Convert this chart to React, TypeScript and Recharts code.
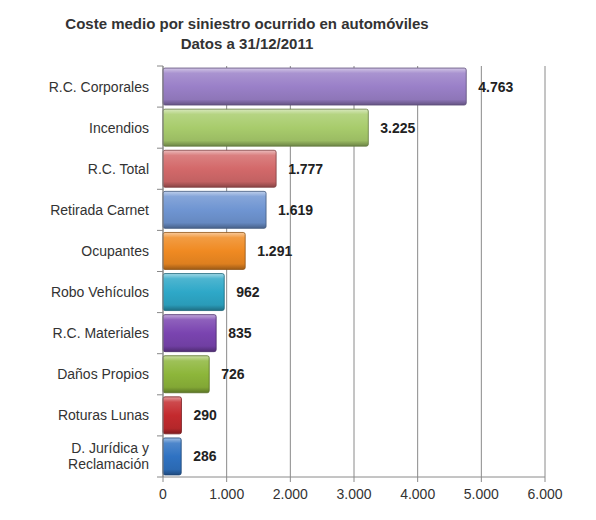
import React from "react";
import { BarChart, Bar, XAxis, YAxis, CartesianGrid, Cell, LabelList } from "recharts";

const categories = [
  "R.C. Corporales",
  "Incendios",
  "R.C. Total",
  "Retirada Carnet",
  "Ocupantes",
  "Robo Vehículos",
  "R.C. Materiales",
  "Daños Propios",
  "Roturas Lunas",
  "D. Jurídica y Reclamación",
];
const values = [4763, 3225, 1777, 1619, 1291, 962, 835, 726, 290, 286];
const xTicks = [0, 1000, 2000, 3000, 4000, 5000, 6000];
const colors = [
  "#9a80c8",
  "#a8cc6c",
  "#d3696a",
  "#6f95d2",
  "#f08a22",
  "#2ea8c8",
  "#7a44b0",
  "#8db63a",
  "#c42a2e",
  "#2f72c2",
];

const data = categories.map((c, i) => ({ name: c, value: values[i] }));

const fmt = (v: number) => String(v).replace(/\B(?=(\d{3})+(?!\d))/g, ".");

const W = 588;
const H = 510;
const MT = 58;
const MB = 11;
const XH = 30;
const PLOT_H = H - MT - MB - XH;
const BAND = PLOT_H / categories.length;
const FONT = "Liberation Sans, Arial, sans-serif";

function shade(hex: string, amt: number) {
  const n = parseInt(hex.slice(1), 16);
  let r = (n >> 16) & 255, g = (n >> 8) & 255, b = n & 255;
  const f = (c: number) =>
    Math.round(amt >= 0 ? c + (255 - c) * amt : c * (1 + amt));
  r = f(r); g = f(g); b = f(b);
  return "#" + ((1 << 24) + (r << 16) + (g << 8) + b).toString(16).slice(1);
}

const YTick = (props: any) => {
  const { x, y, payload, index } = props;
  const label: string = payload.value;
  const ax = x;
  const lines =
    label === "D. Jurídica y Reclamación" ? ["D. Jurídica y", "Reclamación"] : [label];
  const top = y - BAND / 2;
  return (
    <g>
      <line x1={ax - 6} x2={ax} y1={top} y2={top} stroke="#888" />
      {index === categories.length - 1 && (
        <line x1={ax - 6} x2={ax} y1={y + BAND / 2} y2={y + BAND / 2} stroke="#888" />
      )}
      <text x={ax - 14} y={y} textAnchor="end" fontSize={14} fill="#333" fontFamily={FONT}>
        {lines.map((l, i) => (
          <tspan key={i} x={ax - 14} dy={i === 0 ? (lines.length === 1 ? 5 : -3) : 16}>
            {l}
          </tspan>
        ))}
      </text>
    </g>
  );
};

export default function App() {
  return (
    <div style={{ position: "relative", width: W, height: H, background: "#fff" }}>
      <div
        style={{
          position: "absolute",
          left: 0,
          width: 478,
          top: 6,
          textAlign: "center",
          fontFamily: FONT,
          fontWeight: "bold",
          fontSize: 15,
          lineHeight: "20px",
          color: "#333",
        }}
      >
        Coste medio por siniestro ocurrido en automóviles
        <br />
        Datos a 31/12/2011
      </div>
      <BarChart
        width={W}
        height={H}
        data={data}
        layout="vertical"
        margin={{ top: MT, right: 51, bottom: MB, left: 0 }}
        barCategoryGap="5%"
      >
        <defs>
          {colors.map((c, i) => (
            <linearGradient key={i} id={"g" + i} x1="0" y1="0" x2="0" y2="1">
              <stop offset="0%" stopColor={shade(c, 0.55)} />
              <stop offset="14%" stopColor={shade(c, 0.15)} />
              <stop offset="50%" stopColor={c} />
              <stop offset="85%" stopColor={shade(c, -0.08)} />
              <stop offset="100%" stopColor={shade(c, -0.35)} />
            </linearGradient>
          ))}
        </defs>
        <CartesianGrid horizontal={false} stroke="#8a8a8a" strokeWidth={1} />
        <XAxis
          type="number"
          domain={[0, 6000]}
          ticks={xTicks}
          tickFormatter={fmt}
          height={XH}
          stroke="#8a8a8a"
          tickSize={5}
          tick={{ fontSize: 14, fill: "#333", fontFamily: FONT }}
          tickMargin={7}
        />
        <YAxis
          type="category"
          dataKey="name"
          width={155}
          stroke="#8a8a8a"
          tickLine={false}
          tickSize={0}
          tickMargin={0}
          interval={0}
          tick={<YTick />}
        />
        <Bar dataKey="value" isAnimationActive={false} radius={2}>
          {data.map((d, i) => (
            <Cell key={i} fill={`url(#g${i})`} stroke={shade(colors[i], -0.4)} strokeWidth={0.8} />
          ))}
          <LabelList
            dataKey="value"
            position="right"
            offset={12}
            formatter={(v: any) => fmt(Number(v))}
            style={{ fontSize: 14, fontWeight: "bold", fill: "#222", fontFamily: FONT }}
          />
        </Bar>
      </BarChart>
    </div>
  );
}
